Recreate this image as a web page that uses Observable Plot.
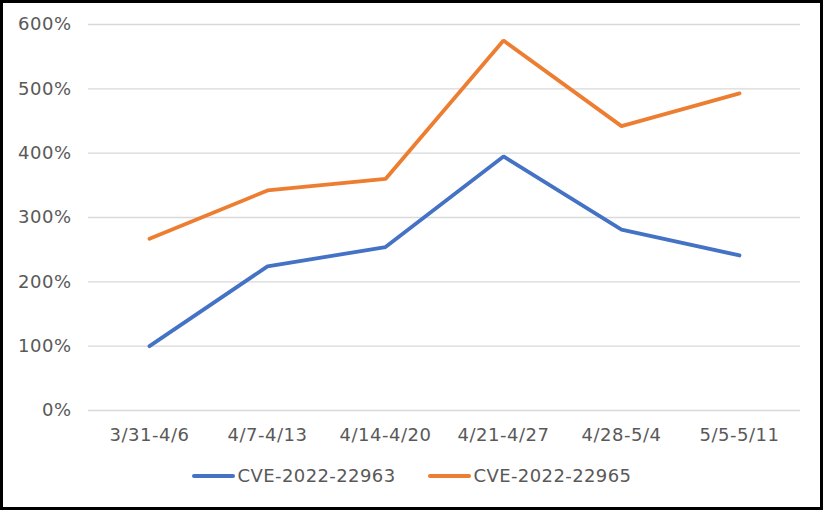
<!DOCTYPE html>
<html>
<head>
<meta charset="utf-8">
<script src="https://cdn.jsdelivr.net/npm/d3@7"></script>
<script src="https://cdn.jsdelivr.net/npm/@observablehq/plot@0.6"></script>
<style>
  html, body { margin: 0; padding: 0; background: #fff; }
  #frame { width: 823px; height: 510px; box-sizing: border-box; border: 3px solid #000; background: #fff; position: relative; overflow: hidden; }
  #chart svg text { letter-spacing: 0.5px; }
  #legend { position: absolute; left: 0; top: 462px; width: 100%; display: flex; justify-content: center; gap: 32px; font-family: "DejaVu Sans", sans-serif; font-size: 18px; letter-spacing: 0.4px; color: #595959; }
  .item { display: flex; align-items: center; }
  .swatch { width: 43px; height: 4px; border-radius: 2px; margin-right: 3px; }
</style>
</head>
<body>
<div id="frame"><div id="chart"></div><div id="legend"></div></div>
<script>
const categories = ["3/31-4/6", "4/7-4/13", "4/14-4/20", "4/21-4/27", "4/28-5/4", "5/5-5/11"];
const seriesNames = ["CVE-2022-22963", "CVE-2022-22965"];
const values22963 = [100, 224, 254, 395, 281, 241];
const values22965 = [267, 342, 360, 575, 442, 493];
const colors = ["#4472C4", "#ED7D31"];
const yTicks = [0, 100, 200, 300, 400, 500, 600];

const data = [];
categories.forEach((c, i) => {
  data.push({cat: c, series: seriesNames[0], v: values22963[i]});
  data.push({cat: c, series: seriesNames[1], v: values22965[i]});
});

const font = '"DejaVu Sans", sans-serif';
const chart = Plot.plot({
  width: 817,
  height: 453,
  marginLeft: 85,
  marginRight: 20,
  marginTop: 21,
  marginBottom: 46,
  style: {fontFamily: font, fontSize: "18px", color: "#595959", background: "#fff"},
  x: {type: "point", domain: categories, padding: 0.5, label: null},
  y: {domain: [0, 600], label: null},
  color: {domain: seriesNames, range: colors},
  marks: [
    Plot.ruleY(yTicks, {stroke: "#d9d9d9", strokeWidth: 1.3}),
    Plot.axisY(yTicks, {tickSize: 0, tickPadding: 17, tickFormat: d => d + "%", label: null, fill: "#595959"}),
    Plot.axisX({tickSize: 0, tickPadding: 18, label: null, fill: "#595959"}),
    Plot.line(data, {x: "cat", y: "v", z: "series", stroke: "series", strokeWidth: 3.8, strokeLinecap: "round", strokeLinejoin: "miter"})
  ]
});
document.getElementById("chart").appendChild(chart);

const legend = document.getElementById("legend");
seriesNames.forEach((s, i) => {
  const item = document.createElement("div");
  item.className = "item";
  const sw = document.createElement("div");
  sw.className = "swatch";
  sw.style.background = colors[i];
  const t = document.createElement("span");
  t.textContent = s;
  item.appendChild(sw);
  item.appendChild(t);
  legend.appendChild(item);
});
</script>
</body>
</html>
